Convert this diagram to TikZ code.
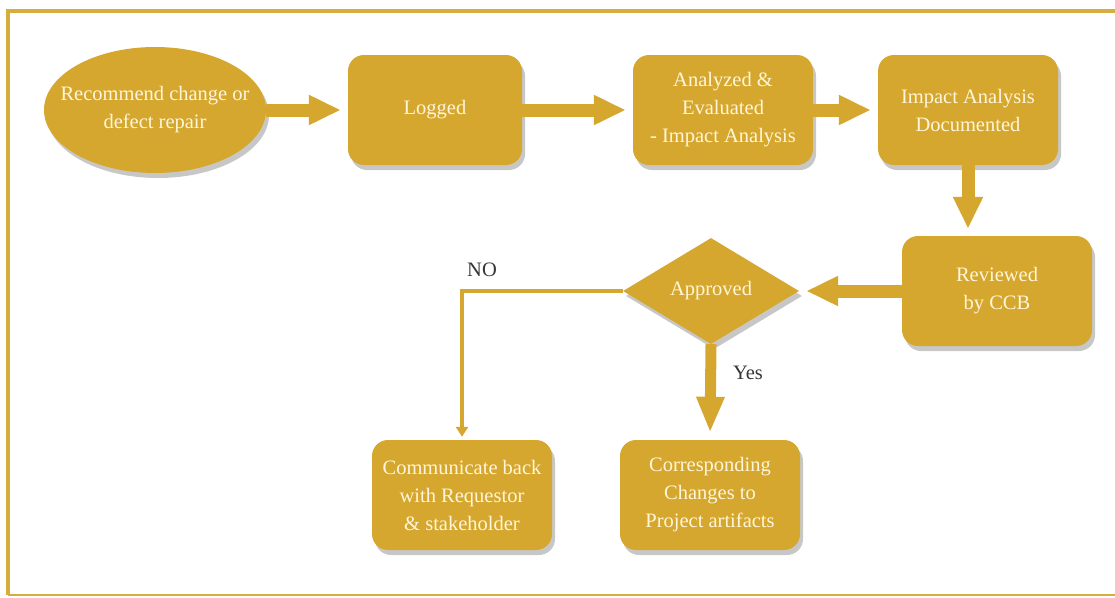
\documentclass[tikz,border=0pt]{standalone}
\usepackage{fontspec}
\setmainfont{Liberation Serif}
\usepackage{tikz}
\usetikzlibrary{arrows.meta,shapes.geometric,shadows}
\definecolor{FlowGold}{HTML}{D6A72E}
\definecolor{FlowFrame}{HTML}{D5AE3E}
\definecolor{FlowCream}{HTML}{FFF6DA}
\definecolor{FlowInk}{HTML}{363636}

\begin{document}
\begin{tikzpicture}[x=1pt,y=-1pt,
  every node/.style={font=\rmfamily\fontsize{20.5}{28}\selectfont},
  stage/.style={fill=FlowGold,text=FlowCream,align=center,inner sep=0pt,
    drop shadow={shadow xshift=3pt,shadow yshift=-5pt,fill=black,opacity=0.22}},
  card/.style={stage,rounded corners=16pt,minimum width=180pt,minimum height=110pt},
  bigarrow/.style={FlowGold,line width=13pt,shorten >=7pt,-{Triangle[width=28pt,length=32pt]}},
  thinarrow/.style={FlowGold,line width=4pt,shorten >=3pt,-{Triangle[width=12pt,length=10pt]}}]
  \useasboundingbox (0,0) rectangle (1115,597);
  \draw[FlowFrame,line width=4pt] (1120,10.5) -| (8,595);
  \draw[FlowFrame,line width=2pt] (8,595) -- (1120,595);
  \node[stage,ellipse,inner xsep=-16pt,minimum height=126pt] (rec) at (155,110)
    {Recommend change or\\defect repair};
  \node[card,minimum width=174pt] (log) at (435,110) {Logged};
  \node[card] (anl) at (723,110) {Analyzed \&\\Evaluated\\- Impact Analysis};
  \node[card] (imp) at (968,110) {Impact Analysis\\Documented};
  \node[card,minimum width=190pt] (rev) at (997,291) {Reviewed\\by CCB};
  \node[stage,diamond,minimum width=176pt,minimum height=106pt] (appr) at (711,291) {Approved};
  \node[card] (comm) at (462,495) {Communicate back\\with Requestor\\\& stakeholder};
  \node[card] (corr) at (710,495) {Corresponding\\Changes to\\Project artifacts};
  \node[text=FlowInk] (no) at (482,270) {NO};
  \node[text=FlowInk] (yes) at (748,373) {Yes};
  \draw[bigarrow] (rec.east) -- (log.west);
  \draw[bigarrow] (log) -- (anl);
  \draw[bigarrow] (anl) -- (imp);
  \draw[bigarrow] (imp.south) -- (imp.south |- rev.north);
  \draw[bigarrow] (rev) -- (appr);
  \draw[bigarrow,line width=11pt,-{Triangle[width=26pt,length=36pt]}] (appr.south) -- (corr.north);
  \draw[thinarrow] (appr.west) -| (comm.north);
\end{tikzpicture}
\end{document}
